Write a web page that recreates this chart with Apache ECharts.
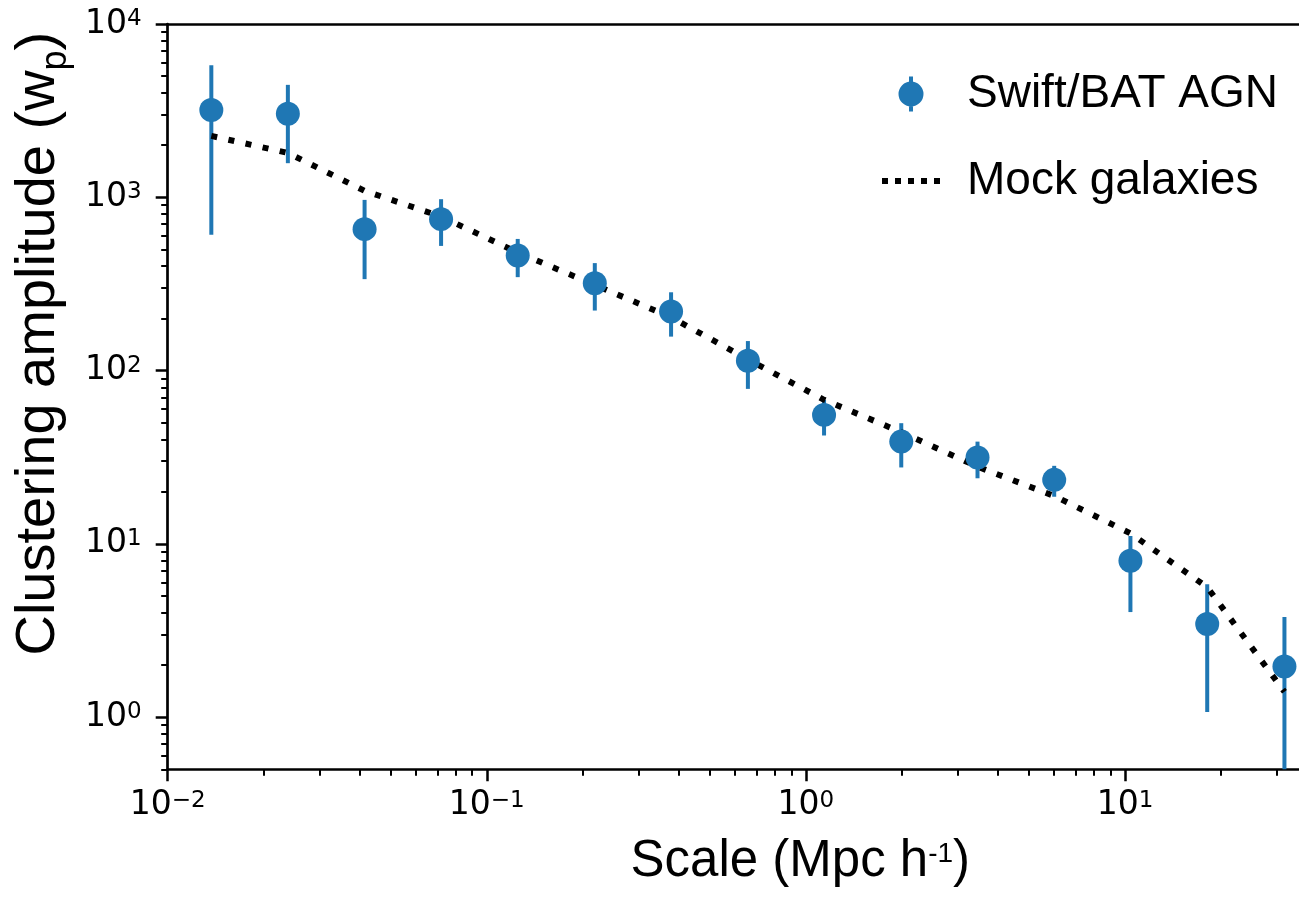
<!DOCTYPE html>
<html><head><meta charset="utf-8">
<script src="https://cdn.jsdelivr.net/npm/echarts@6/dist/echarts.min.js"></script>
<style>html,body{margin:0;padding:0;background:#fff}#c{width:1299px;height:903px}</style>
</head><body><div id="c"></div>
<script>
// ---- data ----
const scaleX = [0.0137, 0.0238, 0.0414, 0.0719, 0.125, 0.218, 0.378, 0.658, 1.14, 1.99, 3.45, 6.00, 10.4, 18.1, 31.6];
const wp     = [3190, 3030, 655, 748, 461, 319, 219, 114, 55.5, 38.9, 31.5, 23.4, 7.98, 3.45, 1.96];
const wpLow  = [607, 1573, 337, 524, 346, 222, 157, 78.4, 42.2, 27.6, 23.9, 18.7, 4.04, 1.07, 0.3];
const wpHigh = [5780, 4455, 966, 975, 575, 417, 283, 148, 67.8, 49.7, 38.9, 28.2, 11.1, 5.85, 3.78];
const mock   = [2260, 1803, 1090, 774, 480, 312, 203, 116, 67.8, 44.1, 27.9, 18.9, 11.5, 5.62, 1.40];
const xTickExp = [-2, -1, 0, 1];
const yTickExp = [0, 1, 2, 3, 4];
const xRange = [0.01, 35.1];
const yRange = [0.5, 10000];
const seriesNames = ['Swift/BAT AGN', 'Mock galaxies'];
const xTitle = 'Scale (Mpc h';
const yTitle = 'Clustering amplitude (w';

const L = Math.log10;
const xMin = L(xRange[0]), xMax = L(xRange[1]), yMin = L(yRange[0]), yMax = L(yRange[1]);
function minorTicks(lo, hi) {
  const out = [];
  for (let n = Math.floor(lo); n <= Math.ceil(hi); n++)
    for (let k = 2; k <= 9; k++) {
      const v = n + Math.log10(k);
      if (v >= lo - 1e-9 && v <= hi + 1e-9) out.push(v);
    }
  return out;
}
const MINUS = '\u2212';
function expLabel(v) {
  const e = Math.round(v);
  return '{b|10}{s|' + (e < 0 ? MINUS + (-e) : e) + '}';
}
const tickRich = {
  b: { fontSize: 33, fontFamily: 'DejaVu Sans', color: '#000', lineHeight: 33 },
  s: { fontSize: 23, fontFamily: 'DejaVu Sans', color: '#000', lineHeight: 23, verticalAlign: 'top' }
};
const BLUE = '#1f77b4';
const spine = { show: true, onZero: false, lineStyle: { color: '#000', width: 2.7 } };
const noLine = { show: false, onZero: false };
const majorTick = { show: true, inside: false, length: 12, lineStyle: { color: '#000', width: 2.5 } };
const minorTickStyle = { show: true, inside: false, length: 6.5, lineStyle: { color: '#000', width: 2 } };

const chart = echarts.init(document.getElementById('c'), null, { renderer: 'canvas' });
chart.setOption({
  animation: false,
  backgroundColor: '#fff',
  grid: { left: 167.7, top: 24, right: 0, height: 745.3, show: false },
  legend: {
    orient: 'vertical', left: 882, top: 71, itemWidth: 58, itemHeight: 35, itemGap: 41, padding: 0,
    textStyle: { fontSize: 46, fontFamily: 'Liberation Sans', color: '#000', padding: [0, 0, 0, 22] },
    data: [
      { name: seriesNames[0], icon: 'path://M10.5,0 L14.5,0 L14.5,35 L10.5,35 Z M0,17.5 A12.5,12.5 0 1,1 25,17.5 A12.5,12.5 0 1,1 0,17.5 Z' },
      { name: seriesNames[1], icon: 'path://M0,0 h6 v6 h-6 Z M13,0 h6 v6 h-6 Z M26,0 h6 v6 h-6 Z M39,0 h6 v6 h-6 Z M52,0 h6 v6 h-6 Z' }
    ]
  },
  xAxis: [
    {
      type: 'value', min: xMin, max: xMax, position: 'bottom',
      axisLine: spine, splitLine: { show: false },
      axisTick: Object.assign({ customValues: xTickExp }, majorTick),
      axisLabel: { customValues: xTickExp, margin: 20, formatter: expLabel, rich: tickRich },
      name: '{t|' + xTitle + '}{s|-1}{t|)}', nameLocation: 'middle', nameGap: 67,
      nameTextStyle: { padding: [0, 0, 0, 134], rich: {
        t: { fontSize: 51, fontFamily: 'Liberation Sans', color: '#000', lineHeight: 51, verticalAlign: 'top' },
        s: { fontSize: 28, fontFamily: 'Liberation Sans', color: '#000', lineHeight: 28, verticalAlign: 'top', padding: [4, 0, 0, 0] }
      } }
    },
    {
      type: 'value', min: xMin, max: xMax, position: 'bottom',
      axisLine: noLine, splitLine: { show: false },
      axisTick: Object.assign({ customValues: minorTicks(xMin, xMax) }, minorTickStyle),
      axisLabel: { show: false }
    },
    {
      type: 'value', min: xMin, max: xMax, position: 'top',
      axisLine: spine, splitLine: { show: false },
      axisTick: { show: false }, axisLabel: { show: false }
    }
  ],
  yAxis: [
    {
      type: 'value', min: yMin, max: yMax, position: 'left',
      axisLine: spine, splitLine: { show: false },
      axisTick: Object.assign({ customValues: yTickExp }, majorTick),
      axisLabel: { customValues: yTickExp, margin: 26, formatter: expLabel, rich: tickRich },
      name: '{t|' + yTitle + '}{p|p}{t|)}', nameLocation: 'middle', nameGap: 90,
      nameTextStyle: { padding: [0, 0, 0, 106], rich: {
        t: { fontSize: 56, fontFamily: 'Liberation Sans', color: '#000', lineHeight: 56, verticalAlign: 'top' },
        p: { fontSize: 36, fontFamily: 'Liberation Sans', color: '#000', lineHeight: 36, verticalAlign: 'top', padding: [28, 0, 0, 0] }
      } }
    },
    {
      type: 'value', min: yMin, max: yMax, position: 'left',
      axisLine: noLine, splitLine: { show: false },
      axisTick: Object.assign({ customValues: minorTicks(yMin, yMax) }, minorTickStyle),
      axisLabel: { show: false }
    }
  ],
  series: [
    {
      type: 'custom', xAxisIndex: 0, yAxisIndex: 0, z: 1, silent: true,
      data: scaleX.map((x, i) => [L(x), L(wpLow[i]), L(wpHigh[i])]),
      encode: { x: 0, y: [1, 2] },
      renderItem: function (params, api) {
        const x = api.value(0);
        const top = api.coord([x, api.value(2)]);
        const bot = api.coord([x, api.value(1)]);
        const cs = params.coordSys;
        const yb = Math.min(bot[1], cs.y + cs.height);
        return { type: 'line', shape: { x1: top[0], y1: top[1], x2: bot[0], y2: yb }, style: { stroke: BLUE, lineWidth: 4 } };
      }
    },
    {
      name: seriesNames[1], type: 'line', xAxisIndex: 0, yAxisIndex: 0, z: 2,
      data: scaleX.map((x, i) => [L(x), L(mock[i])]),
      symbol: 'none', showSymbol: false,
      lineStyle: { color: '#000', width: 6, type: [6, 11.5], cap: 'butt' },
      itemStyle: { color: '#000' }
    },
    {
      name: seriesNames[0], type: 'scatter', xAxisIndex: 0, yAxisIndex: 0, z: 3,
      data: scaleX.map((x, i) => [L(x), L(wp[i])]),
      symbol: 'circle', symbolSize: 24,
      itemStyle: { color: BLUE, opacity: 1 }
    }
  ]
});
</script>
</body></html>
